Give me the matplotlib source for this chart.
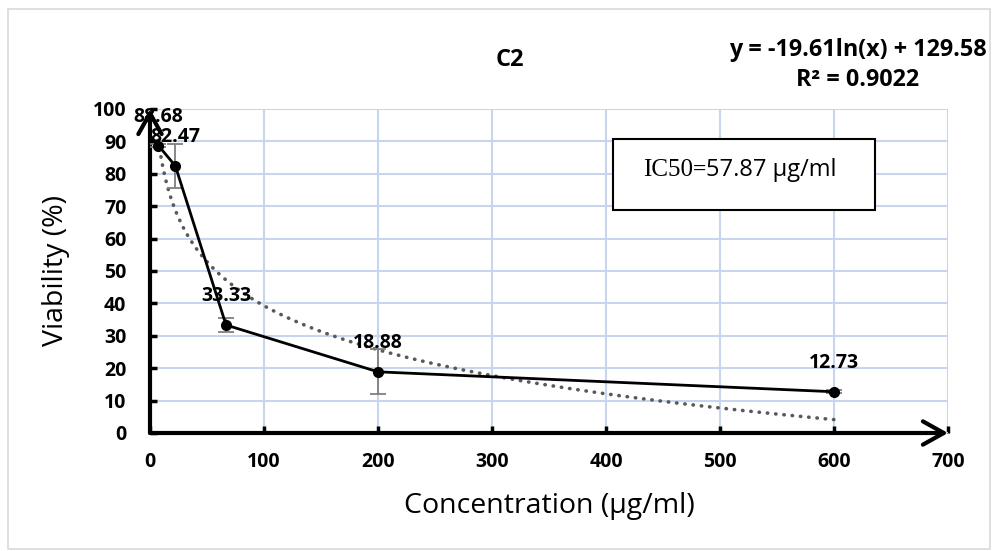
import numpy as np
import matplotlib
matplotlib.use('Agg')
import matplotlib.pyplot as plt
from matplotlib.patches import Rectangle
from matplotlib.text import Annotation

plt.rcParams['font.family'] = ['Open Sans', 'DejaVu Sans']

# data
conc = [7.4, 22.2, 66.7, 200, 600]
viability = [88.68, 82.47, 33.33, 18.88, 12.73]
err = [0.5, 6.7, 2.1, 6.9, 0.4]
labels = ['88.68', '82.47', '33.33', '18.88', '12.73']
x_ticks = [0, 100, 200, 300, 400, 500, 600, 700]
y_ticks = [0, 10, 20, 30, 40, 50, 60, 70, 80, 90, 100]

# log trendline printed on the chart
slope = -19.61
intercept = 129.58

fig = plt.figure(figsize=(9.92, 5.51), dpi=100)
ax = fig.add_axes([150 / 992, 1 - 433 / 551, 798 / 992, 324 / 551])

# outer chart border
fig.patches.append(Rectangle((8 / 992, 2 / 551), 982 / 992, 540 / 551,
                             transform=fig.transFigure, fill=False,
                             edgecolor='#d9d9d9', lw=1.2))

ax.set_xlim(0, 700)
ax.set_ylim(0, 100)
ax.set_xticks(x_ticks)
ax.set_yticks(y_ticks)
ax.grid(True, color='#c6d6ec', lw=1.5)
ax.set_axisbelow(True)
for s in ax.spines.values():
    s.set_visible(False)
ax.tick_params(direction='in', length=5, width=2.5, color='black',
               labelsize=14)
ax.tick_params(axis='x', pad=14)
ax.tick_params(axis='y', pad=17)
for t in ax.get_xticklabels() + ax.get_yticklabels():
    t.set_fontweight('bold')

# axes drawn as arrows
arrow = dict(arrowstyle='->,head_length=0.75,head_width=0.42', lw=3,
             color='black', shrinkA=0, shrinkB=0, mutation_scale=20)
ax.annotate('', xy=(0, 100), xytext=(0, 0), annotation_clip=False,
            arrowprops=arrow)
ax.annotate('', xy=(700, 0), xytext=(0, 0), annotation_clip=False,
            arrowprops=arrow)

# trendline
xs = np.linspace(conc[0], conc[-1], 300)
ax.plot(xs, slope * np.log(xs) + intercept, color='#595959', lw=2.6,
        linestyle=(0, (0.1, 2.2)), dash_capstyle='round', zorder=3)

# main series
ax.errorbar(conc, viability, yerr=err, fmt='none', ecolor='#7f7f7f',
            elinewidth=1.3, capsize=6, capthick=1.3, zorder=4)
ax.plot(conc, viability, color='black', lw=2, marker='o', markersize=7,
        zorder=5, clip_on=False)

for x, y, lab in zip(conc, viability, labels):
    ax.annotate(lab, (x, y), xytext=(0, 21), textcoords='offset points',
                ha='center', va='center', fontsize=14, fontweight='bold',
                zorder=6)

# axis titles
fig.text(549 / 992, 1 - 513 / 551, 'Concentration (µg/ml)', ha='center',
         va='baseline', fontsize=20.5)
fig.text(63 / 992, 1 - 271 / 551, 'Viability (%)', ha='center',
         va='baseline', rotation=90, rotation_mode='anchor', fontsize=20.5)

fig.text(510 / 992, 1 - 60 / 551, 'C2', ha='center', va='center',
         fontsize=17, fontweight='bold')
fig.text(858 / 992, 1 - 50 / 551, 'y = -19.61ln(x) + 129.58', ha='center',
         va='center', fontsize=16.8, fontweight='bold')
fig.text(858 / 992, 1 - 80 / 551, 'R² = 0.9022', ha='center',
         va='center', fontsize=16.8, fontweight='bold')

# IC50 box
fig.patches.append(Rectangle((613 / 992, 1 - 210 / 551), 262 / 992, 71 / 551,
                             transform=fig.transFigure, facecolor='white',
                             edgecolor='black', lw=1.5, zorder=10))
t1 = fig.text(643 / 992, 1 - 170 / 551, 'IC50', ha='left', va='center',
              fontsize=18, family='Liberation Serif', zorder=11)
t2 = fig.add_artist(Annotation('=', xy=(1, 0.5), xycoords=t1, ha='left',
                               va='center', fontsize=17, fontweight='bold',
                               family='Liberation Serif', zorder=11))
fig.add_artist(Annotation('57.87 µg/ml', xy=(1, 0.5), xycoords=t2, ha='left',
                          va='center', fontsize=17, zorder=11))

fig.savefig('out.png', dpi=100)
